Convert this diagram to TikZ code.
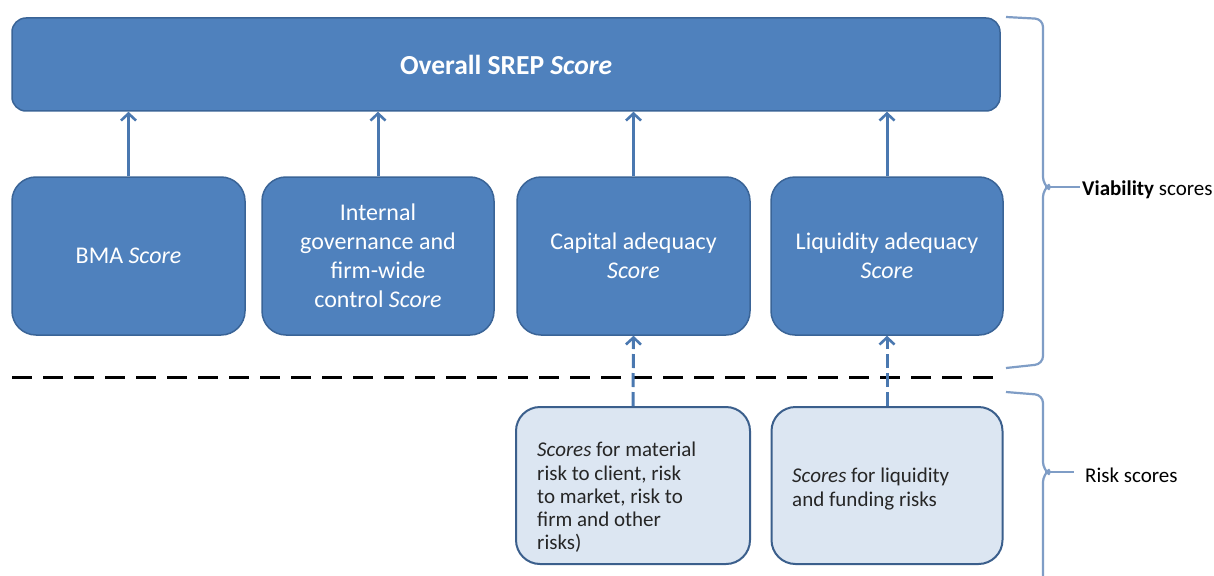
\documentclass[tikz,border=0pt]{standalone}
\usepackage{fontspec}
\setmainfont{Carlito}
\usetikzlibrary{arrows.meta}
\definecolor{boxfill}{HTML}{4F81BD}
\definecolor{boxdraw}{HTML}{3A6497}
\definecolor{riskfill}{HTML}{DCE6F2}
\definecolor{riskdraw}{HTML}{3B5F8C}
\definecolor{bracecol}{HTML}{7F9DC6}
\definecolor{arrowcol}{HTML}{4A78B0}
\tikzset{
  bluebox/.style={draw=boxdraw, line width=1.5pt, fill=boxfill, rounded corners=24pt,
    text=white, align=center, font=\fontsize{24}{29}\selectfont, inner sep=0pt},
  topbox/.style={draw=boxdraw, line width=1.5pt, fill=boxfill, rounded corners=14pt,
    text=white, font=\fontsize{27.5}{30}\selectfont\bfseries, inner sep=0pt},
  riskbox/.style={draw=riskdraw, line width=2pt, fill=riskfill, rounded corners=24pt,
    inner sep=0pt},
  up/.style={draw=arrowcol, line width=3pt, -{Straight Barb[length=7pt,width=15pt,line width=2.6pt]}},
  updash/.style={draw=arrowcol, line width=3pt, dash pattern=on 14pt off 5pt, -{Straight Barb[length=7pt,width=15pt,line width=2.6pt]}},
  sep/.style={draw=black, line width=3pt, dash pattern=on 20pt off 11pt},
  bracestyle/.style={draw=bracecol, line width=2.2pt, rounded corners=8pt},
  risktext/.style={text=black!85, align=left, font=\fontsize{21}{23.3}\selectfont, anchor=north west, inner sep=0pt},
  label/.style={text=black, font=\fontsize{21}{24}\selectfont, anchor=west, inner sep=0pt}
}
\begin{document}
\begin{tikzpicture}[x=1pt,y=-1pt]
\useasboundingbox[fill=white] (0,0) rectangle (1214,575);
% top box
\node[topbox, minimum width=988pt, minimum height=93pt] (top) at (506,64.5) {Overall SREP \textit{Score}};
% row boxes
\node[bluebox, minimum width=233pt, minimum height=158pt] (bma) at (128.5,256) {BMA \textit{Score}};
\node[bluebox, minimum width=232pt, minimum height=158pt] (ig) at (378,256) {Internal\\governance and\\firm-wide\\control \textit{Score}};
\node[bluebox, minimum width=233pt, minimum height=158pt] (cap) at (633.5,256) {Capital adequacy\\\textit{Score}};
\node[bluebox, minimum width=232pt, minimum height=158pt] (liq) at (887,256) {Liquidity adequacy\\\textit{Score}};
% arrows
\draw[up] (bma.north) -- (bma.north |- top.south);
\draw[up] (ig.north) -- (ig.north |- top.south);
\draw[up] (cap.north) -- (cap.north |- top.south);
\draw[up] (liq.north) -- (liq.north |- top.south);
% separator
\coordinate (sepL) at (12,377);
\coordinate (sepR) at (1000,377);
\draw[sep] (sepL) -- (sepR);
% risk boxes
\node[riskbox, minimum width=234pt, minimum height=157pt] (r1) at (633,485.5) {};
\node[riskbox, minimum width=231pt, minimum height=157pt] (r2) at (887,485.5) {};
\node[risktext] (t1) at (537,442) {\textit{Scores} for material\\risk to client, risk\\to market, risk to\\firm and other\\risks)};
\node[risktext] (t2) at (792,468) {\textit{Scores} for liquidity\\and funding risks};
\draw[updash] (r1.north) -- (cap.south);
\draw[updash] (r2.north) -- (liq.south);
% braces
\draw[bracestyle] (1006,17) -- (1043,19) -- (1043,185) -- (1046,187);
\draw[bracestyle] (1046,187) -- (1043,189) -- (1043,364) -- (1006,368);
\coordinate (vt) at (1080,187);
\draw[draw=bracecol, line width=2.2pt] (1045,187) -- (vt);
\node[label] (vlab) at (1082,190) {\textbf{Viability} scores};
\draw[bracestyle] (1006,392) -- (1043,395) -- (1043,470) -- (1046,472);
\draw[bracestyle] (1046,472) -- (1043,474) -- (1043,575) -- (1043,576);
\coordinate (rt) at (1074,472);
\draw[draw=bracecol, line width=2.2pt] (1045,472) -- (rt);
\node[label] (rlab) at (1085,475) {Risk scores};
\end{tikzpicture}
\end{document}
